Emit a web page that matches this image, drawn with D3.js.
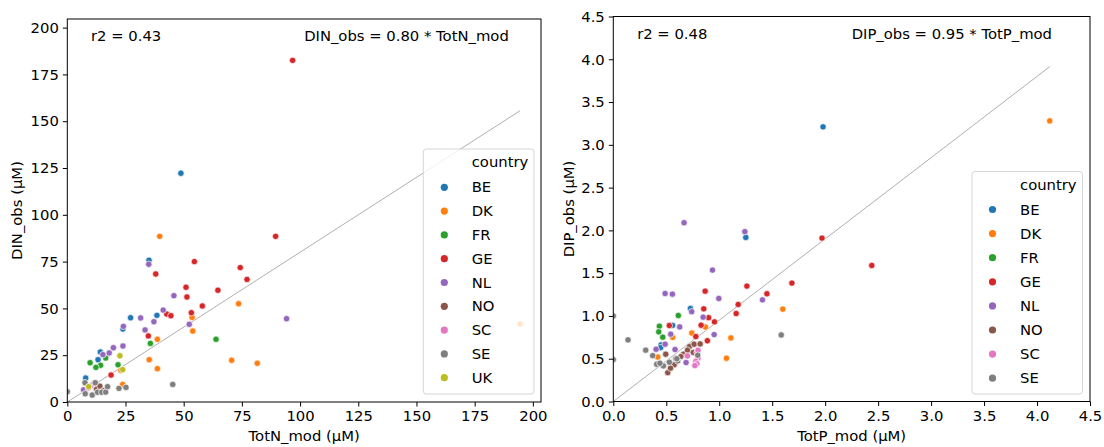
<!DOCTYPE html>
<html>
<head>
<meta charset="utf-8">
<script src="https://cdn.jsdelivr.net/npm/d3@7"></script>
<style>
  body{margin:0;background:#fff}
  text{font-family:"DejaVu Sans",sans-serif;fill:#000}
</style>
</head>
<body>
<svg class="chart"></svg>
<script>
var countries = ["BE","DK","FR","GE","NL","NO","SC","SE","UK"];
var colors = ["#1f77b4","#ff7f0e","#2ca02c","#d62728","#9467bd","#8c564b","#e377c2","#7f7f7f","#bcbd22"];

// [country, TotN_mod, DIN_obs]
var dinPoints = [
  ["BE",48.8,122.2],["BE",35.1,75.7],["BE",38.5,46.3],["BE",27.2,45.0],["BE",23.9,39.0],["BE",14.2,26.7],["BE",13.2,22.6],["BE",7.9,12.8],
  ["DK",39.7,88.5],["DK",73.6,52.5],["DK",53.6,45.2],["DK",53.9,37.9],["DK",38.7,33.5],["DK",35.2,22.6],["DK",70.6,22.3],["DK",81.6,20.7],["DK",38.7,17.8],["DK",23.0,17.0],["DK",23.8,9.4],["DK",194.5,41.7],
  ["FR",63.9,33.5],["FR",35.7,31.3],["FR",16.5,23.5],["FR",9.8,21.0],["FR",14.3,19.6],["FR",12.3,18.5],["FR",21.8,19.9],
  ["GE",96.8,182.5],["GE",89.5,88.5],["GE",54.6,75.0],["GE",38.0,68.4],["GE",74.3,71.8],["GE",77.2,65.5],["GE",51.0,61.3],["GE",51.4,56.1],["GE",64.7,59.7],["GE",58.0,51.3],["GE",53.3,47.7],["GE",42.7,47.0],["GE",44.5,46.1],["GE",34.8,35.3],["GE",18.8,14.4],
  ["NL",35.0,73.6],["NL",94.2,44.5],["NL",45.8,56.8],["NL",41.2,49.1],["NL",31.5,44.9],["NL",37.2,42.9],["NL",52.4,41.5],["NL",24.1,40.4],["NL",33.4,38.5],["NL",19.8,29.0],["NL",23.9,29.9],["NL",18.0,26.2],["NL",15.3,25.3],["NL",7.0,6.5],
  ["NO",12.5,7.0],["NO",14.0,8.5],["NO",15.5,6.0],
  ["SC",10.5,9.0],["SC",9.0,7.5],["SC",11.5,10.0],
  ["SE",0,5.5],["SE",7.6,10.3],["SE",7.7,4.4],["SE",10.7,3.7],["SE",12.0,10.3],["SE",13.0,5.2],["SE",14.8,5.2],["SE",16.5,5.3],["SE",17.3,8.2],["SE",22.2,7.3],["SE",25.2,7.8],["SE",45.3,9.4],
  ["UK",22.6,24.7],["UK",9.2,8.2],["UK",23.8,17.3]
];

// [country, TotP_mod, DIP_obs]
var dipPoints = [
  ["BE",1.98,3.21],["BE",1.251,1.918],["BE",0.728,1.087],["BE",0.56,0.89],["BE",0.451,0.662],["BE",0.447,0.63],
  ["DK",4.12,3.28],["DK",1.6,1.08],["DK",1.068,0.506],["DK",1.11,0.743],["DK",0.741,0.8],["DK",0.87,0.87],["DK",0.42,0.52],["DK",0.56,0.75],
  ["FR",0.614,1.005],["FR",0.435,0.88],["FR",0.429,0.814],["FR",0.467,0.752],
  ["GE",1.97,1.91],["GE",2.44,1.59],["GE",1.686,1.384],["GE",1.261,1.349],["GE",1.45,1.259],["GE",0.867,1.29],["GE",1.179,1.134],["GE",1.16,1.028],["GE",0.854,1.083],["GE",0.9,0.98],["GE",0.955,0.931],["GE",0.529,0.888],["GE",0.829,0.892],["GE",0.779,0.759],["GE",0.888,0.71],
  ["NL",0.668,2.09],["NL",1.242,1.985],["NL",0.936,1.536],["NL",1.408,1.188],["NL",0.489,1.262],["NL",0.558,1.255],["NL",0.996,1.204],["NL",0.74,1.05],["NL",0.848,0.986],["NL",0.627,0.872],["NL",0.542,0.787],["NL",0.952,0.782],["NL",0.404,0.611],["NL",0.489,0.67],["NL",0.583,0.607],["NL",0.687,0.455],
  ["NO",0.495,0.553],["NO",0.719,0.642],["NO",0.763,0.67],["NO",0.82,0.673],["NO",0.662,0.553],["NO",0.637,0.525],["NO",0.755,0.574],["NO",0.59,0.5],["NO",0.575,0.43],["NO",0.514,0.337],["NO",0.54,0.39],["NO",0.7,0.6],
  ["SC",0.7,0.533],["SC",0.79,0.574],["SC",0.8,0.507],["SC",0.78,0.47],["SC",0.79,0.44],["SC",0.8,0.6],["SC",0.77,0.42],
  ["SE",1.585,0.778],["SE",0.139,0.72],["SE",0,1.0],["SE",0,0.49],["SE",0.306,0.6],["SE",0.372,0.536],["SE",0.797,0.541],["SE",0.608,0.474],["SE",0.529,0.459],["SE",0.473,0.416],["SE",0.41,0.435],["SE",0.44,0.447],["SE",0.6,0.5]
];

var nTicks = [0,25,50,75,100,125,150,175,200];
var pTicks = [0,0.5,1,1.5,2,2.5,3,3.5,4,4.5];
var dinSlope = 0.80, dipSlope = 0.95;
var dinR2 = "0.43", dipR2 = "0.48";

var width = 1104, height = 447, fs = 14.8;
var svg = d3.select(".chart").attr("width",width).attr("height",height);
var color = d3.scaleOrdinal().domain(countries).range(colors);

function panel(o){
  var x = d3.scaleLinear().domain(o.xDom).range([o.left,o.right]);
  var y = d3.scaleLinear().domain(o.yDom).range([o.bottom,o.top]);
  var g = svg.append("g");

  g.append("clipPath").attr("id",o.id+"clip")
    .append("rect").attr("x",o.left).attr("y",o.top)
    .attr("width",o.right-o.left).attr("height",o.bottom-o.top);

  var xa = g.append("g").attr("transform","translate(0,"+o.bottom+")")
    .call(d3.axisBottom(x).tickValues(o.xTicks).tickSize(4.5).tickPadding(4).tickFormat(o.fmt));
  var ya = g.append("g").attr("transform","translate("+o.left+",0)")
    .call(d3.axisLeft(y).tickValues(o.yTicks).tickSize(4.5).tickPadding(4).tickFormat(o.fmt));
  [xa,ya].forEach(function(a){
    a.select(".domain").remove();
    a.selectAll("line").attr("stroke","#000").attr("stroke-width",1);
    a.selectAll("text").attr("font-size",fs).attr("font-family","DejaVu Sans");
  });

  var xmax = d3.max(o.data,function(d){return d[1];});
  g.append("line")
    .attr("x1",x(0)).attr("y1",y(0))
    .attr("x2",x(xmax)).attr("y2",y(xmax*o.slope))
    .attr("stroke","#9a9a9a").attr("stroke-width",0.8);

  g.append("g").attr("clip-path","url(#"+o.id+"clip)")
    .selectAll("circle").data(o.data).enter()
    .append("circle")
    .attr("cx",function(d){return x(d[1]);})
    .attr("cy",function(d){return y(d[2]);})
    .attr("r",3.2)
    .attr("fill",function(d){return color(d[0]);})
    .attr("stroke","#fff").attr("stroke-width",0.7);

  g.append("rect").attr("x",o.left).attr("y",o.top)
    .attr("width",o.right-o.left).attr("height",o.bottom-o.top)
    .attr("fill","none").attr("stroke","#000").attr("stroke-width",1);

  g.append("text").attr("x",o.left+0.05*(o.right-o.left)).attr("y",o.top+22)
    .attr("font-size",fs).text("r2 = "+o.r2);
  g.append("text").attr("x",o.left+0.5*(o.right-o.left)).attr("y",o.top+22)
    .attr("font-size",fs).text(o.eq);

  g.append("text").attr("x",(o.left+o.right)/2).attr("y",441)
    .attr("text-anchor","middle").attr("font-size",fs).text(o.xLabel);
  g.append("text").attr("transform","translate("+o.yLabelX+","+(o.top+o.bottom)/2+") rotate(-90)")
    .attr("text-anchor","middle").attr("font-size",fs).text(o.yLabel);

  // legend
  var present = countries.filter(function(c){
    return o.data.some(function(d){return d[0]==c;});
  });
  var L = o.legend;
  var lg = g.append("g");
  lg.append("rect").attr("x",L.x).attr("y",L.y).attr("width",L.w)
    .attr("height",L.h).attr("rx",3)
    .attr("fill","#fff").attr("fill-opacity",0.8)
    .attr("stroke","#d6d6d6").attr("stroke-width",1);
  lg.append("text").attr("x",L.tx).attr("y",L.titleY).attr("dy","0.35em")
    .attr("font-size",fs).text("country");
  var items = lg.selectAll(".item").data(present).enter().append("g");
  items.append("circle")
    .attr("cx",L.mx).attr("cy",function(d,i){return L.y0+i*L.step;})
    .attr("r",3.6).attr("fill",function(d){return color(d);});
  items.append("text")
    .attr("x",L.tx).attr("y",function(d,i){return L.y0+i*L.step;}).attr("dy","0.35em")
    .attr("font-size",fs).text(function(d){return d;});
}

panel({
  id:"n", data:dinPoints, left:67.3, right:541, top:19, bottom:402,
  xDom:[0,203.5], yDom:[0,204.6], xTicks:nTicks, yTicks:nTicks, fmt:d3.format("d"),
  slope:dinSlope, r2:dinR2, eq:"DIN_obs = 0.80 * TotN_mod",
  xLabel:"TotN_mod (\u00b5M)", yLabel:"DIN_obs (\u00b5M)", yLabelX:22,
  legend:{x:423.3,y:149,w:110.7,h:245,titleY:162,y0:187.3,step:23.8,mx:444.3,tx:471.7}
});

panel({
  id:"p", data:dipPoints, left:613.3, right:1090, top:16.5, bottom:401.5,
  xDom:[0,4.5], yDom:[0,4.5], xTicks:pTicks, yTicks:pTicks, fmt:d3.format(".1f"),
  slope:dipSlope, r2:dipR2, eq:"DIP_obs = 0.95 * TotP_mod",
  xLabel:"TotP_mod (\u00b5M)", yLabel:"DIP_obs (\u00b5M)", yLabelX:574,
  legend:{x:972,y:171.5,w:110.5,h:222.5,titleY:185,y0:209.5,step:24.1,mx:992.5,tx:1020}
});
</script>
</body>
</html>
